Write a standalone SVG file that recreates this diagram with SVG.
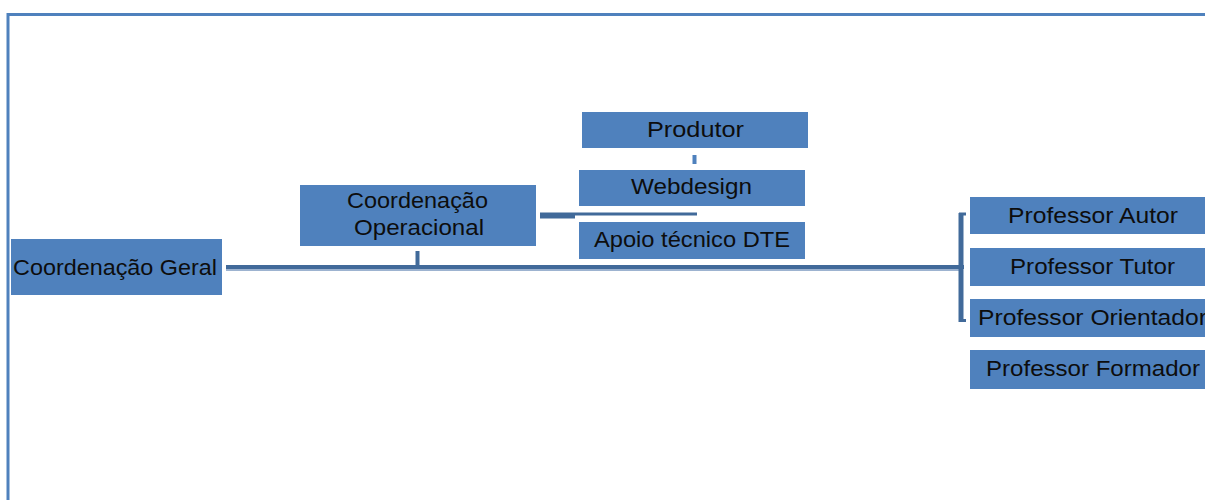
<svg xmlns="http://www.w3.org/2000/svg" width="1205" height="500" viewBox="0 0 1205 500">
<style>
.box{fill:#4F81BD;}
.lbl{font-family:"Liberation Sans",Arial,sans-serif;font-size:22px;fill:#0d0d0d;}
.ln{stroke:#416A9A;fill:none;}
.sh{stroke:#9DB3D0;fill:none;}
</style>
<rect x="0" y="0" width="1205" height="500" fill="#ffffff"/>
<g id="frame">
<line x1="7" y1="14.5" x2="1205" y2="14.5" stroke="#4F81BD" stroke-width="3"/>
<line x1="8" y1="13" x2="8" y2="500" stroke="#4F81BD" stroke-width="3"/>
</g>
<g id="connectors">
<line class="sh" x1="226" y1="270" x2="962" y2="270" stroke-width="2"/>
<line class="ln" x1="226" y1="267" x2="964" y2="267" stroke-width="4"/>
<line class="ln" x1="417.5" y1="251" x2="417.5" y2="266" stroke-width="4"/>
<line class="ln" x1="961" y1="213" x2="961" y2="322" stroke-width="5"/>
<line class="ln" x1="959" y1="214" x2="966" y2="214" stroke-width="3"/>
<line class="ln" x1="959" y1="320.5" x2="966" y2="320.5" stroke-width="3"/>
<line class="ln" x1="540" y1="214" x2="697" y2="214" stroke-width="3"/>
<line class="ln" x1="540" y1="216" x2="575" y2="216" stroke-width="5"/>
<line x1="694.5" y1="155" x2="694.5" y2="164" stroke="#4F81BD" stroke-width="4"/>
</g>
<g id="coord-geral">
<rect class="box" x="11" y="239" width="211" height="56"/>
<text class="lbl" x="13" y="275" textLength="204" lengthAdjust="spacingAndGlyphs">Coordenação Geral</text>
</g>
<g id="coord-operacional">
<rect class="box" x="300" y="185" width="236" height="61"/>
<text class="lbl" x="347" y="208" textLength="141" lengthAdjust="spacingAndGlyphs">Coordenação</text>
<text class="lbl" x="354" y="235" textLength="130" lengthAdjust="spacingAndGlyphs">Operacional</text>
</g>
<g id="produtor">
<rect class="box" x="582" y="112" width="226" height="36"/>
<text class="lbl" x="647" y="137" textLength="97" lengthAdjust="spacingAndGlyphs">Produtor</text>
</g>
<g id="webdesign">
<rect class="box" x="579" y="170" width="226" height="36"/>
<text class="lbl" x="631" y="194" textLength="121" lengthAdjust="spacingAndGlyphs">Webdesign</text>
</g>
<g id="apoio">
<rect class="box" x="579" y="222" width="226" height="37"/>
<text class="lbl" x="594" y="247" textLength="196" lengthAdjust="spacingAndGlyphs">Apoio técnico DTE</text>
</g>
<g id="prof-autor">
<rect class="box" x="970" y="197" width="235" height="37"/>
<text class="lbl" x="1008" y="223" textLength="170" lengthAdjust="spacingAndGlyphs">Professor Autor</text>
</g>
<g id="prof-tutor">
<rect class="box" x="970" y="248" width="235" height="38"/>
<text class="lbl" x="1010" y="274" textLength="165" lengthAdjust="spacingAndGlyphs">Professor Tutor</text>
</g>
<g id="prof-orientador">
<rect class="box" x="970" y="299" width="235" height="38"/>
<text class="lbl" x="978" y="325" textLength="229" lengthAdjust="spacingAndGlyphs">Professor Orientador</text>
</g>
<g id="prof-formador">
<rect class="box" x="970" y="350" width="235" height="39"/>
<text class="lbl" x="986" y="376" textLength="214" lengthAdjust="spacingAndGlyphs">Professor Formador</text>
</g>
</svg>
